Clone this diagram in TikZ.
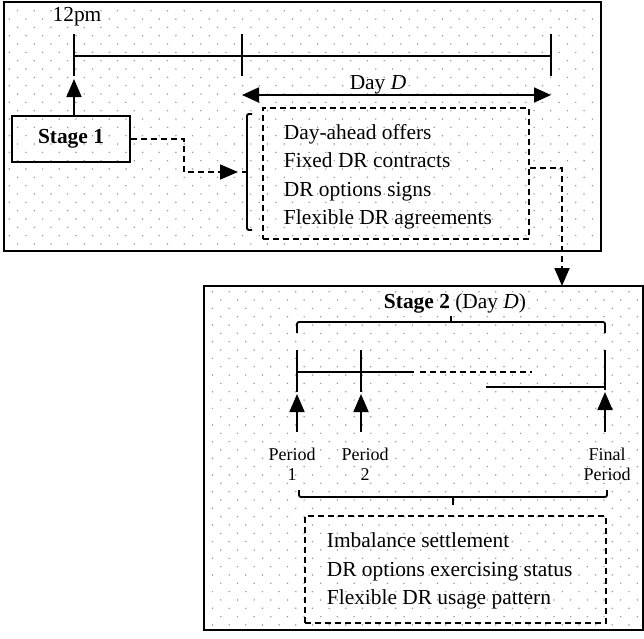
\documentclass[tikz,border=0pt]{standalone}
\usepackage{fontspec}
\setmainfont{Liberation Serif}
\usetikzlibrary{arrows.meta}
\definecolor{dotc}{HTML}{9C9C9C}
\begin{document}
\begin{tikzpicture}[x=1pt,y=-1pt,
  line width=1.8pt,
  tip/.style={-{Triangle[length=18pt,width=15pt]}},
  dtip/.style={{Triangle[length=17pt,width=15pt]}-{Triangle[length=17pt,width=15pt]}},
  dsh/.style={dash pattern=on 6pt off 4pt},
  frame/.style={draw,line width=2pt},
  txt/.style={font=\fontsize{21.4}{28.5}\selectfont, inner sep=0pt},
  small/.style={font=\fontsize{18}{20}\selectfont, inner sep=0pt},
  dashbox/.style={draw, dsh, line width=1.7pt, inner sep=0pt},
]
\useasboundingbox (0,0) rectangle (644,638);

% dotted backgrounds
\begin{scope}
  \clip (4,1.5) rectangle (601,251);
  \foreach \j in {0,...,30}{
    \foreach \i in {0,...,36}{
      \fill[dotc] ({9.3+16.66*\i+mod(\j,2)*8.33},{2.4+8.33*\j}) circle (0.85);
    }
  }
\end{scope}
\begin{scope}
  \clip (204,286) rectangle (643,630);
  \foreach \j in {0,...,42}{
    \foreach \i in {0,...,28}{
      \fill[dotc] ({187.5+16.66*\i+mod(\j,2)*8.33},{283.4+8.33*\j}) circle (0.85);
    }
  }
\end{scope}

% frames
\coordinate (f1a) at (4,1.5);
\coordinate (f1b) at (601,251);
\coordinate (f2a) at (204,286);
\coordinate (f2b) at (643,630);
\draw[frame] (f1a) rectangle (f1b);
\draw[frame] (f2a) rectangle (f2b);

% ---------- Stage 1 ----------
\node[txt, anchor=base] (noon) at (77,21) {12pm};
\coordinate (t0) at (74,56);
\coordinate (t1) at (242,56);
\coordinate (t2) at (551,56);
\draw (t0) -- (t2);
\foreach \c in {t0,t1,t2}{
  \draw ([yshift=22pt]\c) -- ([yshift=-20pt]\c);
}
\node[txt, draw, line width=1.8pt, minimum width=118pt, minimum height=46pt] (s1) at (71,139) {\textbf{Stage 1}};
\draw[tip] (s1.north -| t0) -- ([yshift=-23pt]t0);

\coordinate (dl) at (242,95);
\coordinate (dr) at (551,95);
\draw[dtip] (dl) -- (dr);
\node[txt, anchor=base] (dayd) at (378,89) {Day \textit{D}};

\node[dashbox, minimum width=266pt, minimum height=131pt] (list1) at (396,173.5) {};
\node[txt, anchor=base west] (a1) at (283,139) {Day-ahead offers};
\node[txt, anchor=base west] (a2) at (283,167.5) {Fixed DR contracts};
\node[txt, anchor=base west] (a3) at (283,196) {DR options signs};
\node[txt, anchor=base west] (a4) at (283,224) {Flexible DR agreements};

\coordinate (br1) at (247,172);
\draw[rounded corners=1.5pt] (252,114) -- (247,114) -- (247,230) -- (252,230);
\draw (br1) -- ++(-5,0);
\draw[dsh, tip] (s1.east) -- ++(53,0) |- ([xshift=-9pt]br1);

\coordinate (b2in) at (562,286);
\draw[dsh, tip] (list1.east |- 0,168) -| (b2in);

% ---------- Stage 2 ----------
\node[txt, anchor=base] (s2) at (455,308) {\textbf{Stage 2} (Day \textit{D})};
\draw[rounded corners=2pt] (297,333) -- (297,322) -- (605,322) -- (605,333);
\draw (451,322) -- (451,316);

\coordinate (p1) at (297,372);
\coordinate (p2) at (361,372);
\coordinate (p3) at (605,387);
\draw ([yshift=22pt]p1) -- ([yshift=-20pt]p1);
\draw ([yshift=22pt]p2) -- ([yshift=-20pt]p2);
\draw ([yshift=37pt]p3) -- ([yshift=-3pt]p3);
\draw (p1) -- (414,372);
\draw[dsh] (420,372) -- (532,372);
\draw (486,387) -- (p3);

\draw[tip] (297,432) -- (297,394);
\draw[tip] (361,432) -- (361,394);
\draw[tip] (605,432) -- (605,392);

\node[small, anchor=base] (q1a) at (292,460) {Period};
\node[small, anchor=base] (q1b) at (292,480) {1};
\node[small, anchor=base] (q2a) at (365,460) {Period};
\node[small, anchor=base] (q2b) at (365,480) {2};
\node[small, anchor=base] (q3a) at (607,460) {Final};
\node[small, anchor=base] (q3b) at (607,480) {Period};

\draw[rounded corners=2pt] (299,490) -- (299,497) -- (607,497) -- (607,490);
\draw (453,497) -- (453,505);

\node[dashbox, minimum width=301pt, minimum height=107pt] (list2) at (455.5,569.5) {};
\node[txt, anchor=base west] (c1) at (326,547) {Imbalance settlement};
\node[txt, anchor=base west] (c2) at (326,576) {DR options exercising status};
\node[txt, anchor=base west] (c3) at (326,604) {Flexible DR usage pattern};
\end{tikzpicture}
\end{document}
